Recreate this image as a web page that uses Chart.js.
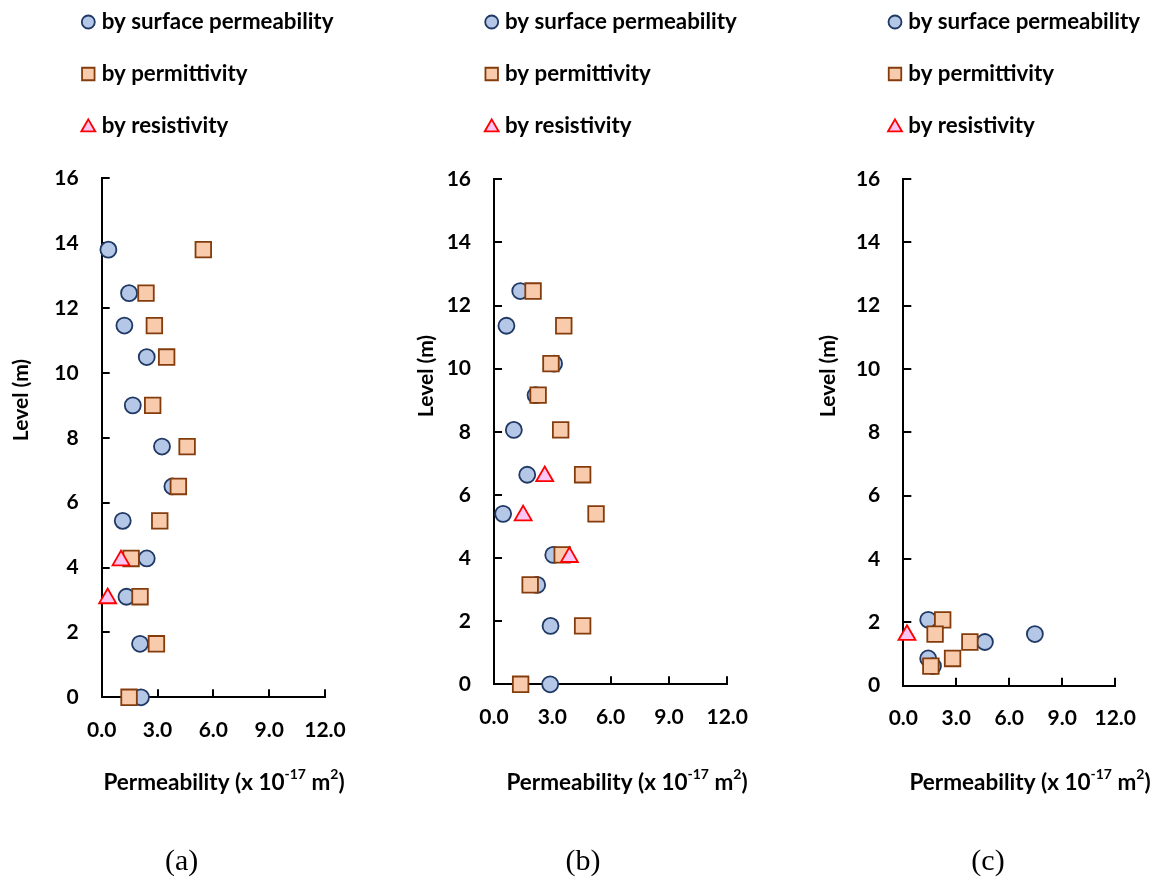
<!DOCTYPE html>
<html>
<head>
<meta charset="utf-8">
<script src="https://cdn.jsdelivr.net/npm/chart.js@4.4.1/dist/chart.umd.min.js"></script>
<style>
  html, body { margin: 0; padding: 0; background: #ffffff; }
  #wrap { position: relative; width: 1164px; height: 881px; overflow: hidden; background: #ffffff; }
  canvas { position: absolute; top: 0; }
</style>
</head>
<body>
<div id="wrap">
  <canvas id="ca" width="388" height="881" style="left:0px"></canvas>
  <canvas id="cb" width="388" height="881" style="left:388px"></canvas>
  <canvas id="cc" width="388" height="881" style="left:776px"></canvas>
</div>
<script>
// ---------- data ----------
const seriesNames = ['by surface permeability', 'by permittivity', 'by resistivity'];
const panelLabels = ['(a)', '(b)', '(c)'];
const yTitleText = 'Level (m)';
const xTicks = [0, 3, 6, 9, 12];
const yTicks = [0, 2, 4, 6, 8, 10, 12, 14, 16];

// Panel (a)
const aSurfPerm   = [0.36, 1.47, 1.22, 2.42, 1.67, 3.24, 3.80, 1.13, 2.42, 1.33, 2.06, 2.11];
const aSurfLevel  = [13.8, 12.46, 11.46, 10.49, 9.0, 7.73, 6.5, 5.44, 4.28, 3.1, 1.65, 0];
const aPermitPerm  = [5.46, 2.38, 2.83, 3.49, 2.74, 4.59, 4.12, 3.12, 1.58, 2.06, 2.94, 1.47];
const aPermitLevel = [13.8, 12.46, 11.46, 10.49, 9.0, 7.73, 6.5, 5.44, 4.28, 3.1, 1.65, 0];
const aResistPerm  = [1.04, 0.32];
const aResistLevel = [4.22, 3.05];

// Panel (b)
const bSurfPerm   = [1.35, 0.64, 3.09, 2.14, 1.02, 1.71, 0.47, 3.05, 2.22, 2.91, 2.89];
const bSurfLevel  = [12.46, 11.36, 10.16, 9.16, 8.06, 6.64, 5.4, 4.1, 3.15, 1.85, 0];
const bPermitPerm  = [2.01, 3.59, 2.93, 2.27, 3.43, 4.56, 5.25, 3.51, 1.86, 4.56, 1.37];
const bPermitLevel = [12.46, 11.36, 10.16, 9.16, 8.06, 6.64, 5.4, 4.1, 3.15, 1.85, 0];
const bResistPerm  = [2.61, 1.50, 3.88];
const bResistLevel = [6.59, 5.35, 4.03];

// Panel (c)
const cSurfPerm   = [1.41, 7.45, 4.62, 1.41, 1.68];
const cSurfLevel  = [2.08, 1.63, 1.38, 0.86, 0.62];
const cPermitPerm  = [2.23, 1.80, 3.77, 2.79, 1.56];
const cPermitLevel = [2.08, 1.63, 1.38, 0.86, 0.62];
const cResistPerm  = [0.21];
const cResistLevel = [1.60];

// ---------- styles ----------
const FONT = 'Lato, "Noto Sans", "DejaVu Sans", sans-serif';
const SERIF = '"Liberation Serif", "DejaVu Serif", serif';
const seriesStyles = [
  { shape: 'circle',   fill: '#b4c7e7', stroke: '#1f3864', radius: 8.0,  legendSize: 13, order: 3 },
  { shape: 'rect',     fill: '#f8cbad', stroke: '#843c0c', radius: 11.0, legendSize: 12.5, order: 2 },
  { shape: 'triangle', fill: '#fbc6f4', stroke: '#ff0000', radius: 9.8,  legendSize: 14, order: 1 }
];

function drawMarker(ctx, shape, x, y, size, fill, stroke, lw) {
  ctx.save();
  ctx.beginPath();
  if (shape === 'circle') {
    ctx.arc(x, y, size / 2, 0, Math.PI * 2);
  } else if (shape === 'rect') {
    ctx.rect(x - size / 2, y - size / 2, size, size);
  } else {
    const h = size * 0.866;
    ctx.moveTo(x, y - h * 0.55);
    ctx.lineTo(x + size / 2, y + h * 0.45);
    ctx.lineTo(x - size / 2, y + h * 0.45);
    ctx.closePath();
  }
  ctx.fillStyle = fill;
  ctx.fill();
  ctx.lineWidth = lw;
  ctx.strokeStyle = stroke;
  ctx.stroke();
  ctx.restore();
}

const panelText = {
  id: 'panelText',
  afterDraw(chart, args, o) {
    const ctx = chart.ctx;
    ctx.save();
    ctx.fillStyle = '#000000';
    ctx.textBaseline = 'middle';
    // legend
    seriesStyles.forEach((st, i) => {
      const y = o.legendTop + i * o.legendGap;
      drawMarker(ctx, st.shape, o.markerX, y, st.legendSize, st.fill, st.stroke, 1.8);
      ctx.fillStyle = '#000000';
      ctx.textAlign = 'left';
      ctx.font = 'bold ' + o.legendSize + 'px ' + FONT;
      ctx.fillText(chart.data.datasets[i].label, o.textX, y);
    });
    // y axis title
    ctx.save();
    ctx.translate(o.yTitleX, o.yTitleY);
    ctx.rotate(-Math.PI / 2);
    ctx.textAlign = 'center';
    ctx.font = 'bold ' + o.yTitleSize + 'px ' + FONT;
    ctx.fillText(yTitleText, 0, 0);
    ctx.restore();
    // x axis title with superscripts
    const parts = [['Permeability (x 10', false], ['-17', true], [' m', false], ['2', true], [')', false]];
    const big = 'bold ' + o.xTitleSize + 'px ' + FONT;
    const small = 'bold ' + Math.round(o.xTitleSize * 0.62) + 'px ' + FONT;
    let total = 0;
    parts.forEach(p => { ctx.font = p[1] ? small : big; total += ctx.measureText(p[0]).width; });
    let x = o.xTitleX - total / 2;
    ctx.textAlign = 'left';
    parts.forEach(p => {
      ctx.font = p[1] ? small : big;
      ctx.fillText(p[0], x, p[1] ? o.xTitleY - o.xTitleSize * 0.36 : o.xTitleY);
      x += ctx.measureText(p[0]).width;
    });
    // panel label
    ctx.textAlign = 'center';
    ctx.font = o.panelSize + 'px ' + SERIF;
    ctx.fillText(o.panel, o.panelX, o.panelY);
    ctx.restore();
  }
};

const CW = 388, CH = 881, YW = 50, XH = 50;
const TICK_FONT = { family: FONT, size: 21, weight: 'bold' };

function buildChart(id, xs, ys, L) {
  const datasets = seriesStyles.map((st, i) => ({
    label: seriesNames[i],
    data: xs[i].map((v, k) => ({ x: v, y: ys[i][k] })),
    pointStyle: st.shape,
    pointRadius: st.radius,
    pointHoverRadius: st.radius,
    pointBackgroundColor: st.fill,
    pointBorderColor: st.stroke,
    pointBorderWidth: 1.8,
    backgroundColor: st.fill,
    borderColor: st.stroke,
    showLine: false,
    clip: false,
    order: st.order
  }));
  return new Chart(document.getElementById(id), {
    type: 'scatter',
    data: { datasets },
    plugins: [panelText],
    options: {
      responsive: false,
      animation: false,
      devicePixelRatio: 1,
      events: [],
      layout: {
        autoPadding: false,
        padding: { left: L.left - YW, right: CW - L.right, top: L.top, bottom: CH - L.bottom - XH }
      },
      plugins: {
        legend: { display: false },
        tooltip: { enabled: false },
        panelText: L.text
      },
      scales: {
        x: {
          type: 'linear', position: 'bottom', min: 0, max: 12,
          afterBuildTicks: s => { s.ticks = xTicks.map(v => ({ value: v })); },
          afterFit: s => { s.height = XH; },
          grid: { drawOnChartArea: false, drawTicks: true, tickLength: -8, color: '#000000', lineWidth: 2 },
          border: { display: true, color: '#000000', width: 2 },
          ticks: { padding: 28, color: '#000000', font: TICK_FONT, maxRotation: 0, autoSkip: false,
                   callback: v => Number(v).toFixed(1) },
          title: { display: false }
        },
        y: {
          type: 'linear', position: 'left', min: 0, max: 16,
          afterBuildTicks: s => { s.ticks = yTicks.map(v => ({ value: v })); },
          afterFit: s => { s.width = YW; },
          grid: { drawOnChartArea: false, drawTicks: true, tickLength: -8, color: '#000000', lineWidth: 2 },
          border: { display: true, color: '#000000', width: 2 },
          ticks: { padding: 31, color: '#000000', font: TICK_FONT, autoSkip: false },
          title: { display: false }
        }
      }
    }
  });
}

const commonText = { legendTop: 22, legendGap: 52, legendSize: 22.3, xTitleSize: 22.5, yTitleSize: 21, panelSize: 30, xTitleY: 783, panelY: 862 };

buildChart('ca',
  [aSurfPerm, aPermitPerm, aResistPerm], [aSurfLevel, aPermitLevel, aResistLevel],
  { left: 101.7, right: 325, top: 178.3, bottom: 697.3,
    text: Object.assign({}, commonText, { markerX: 88.3, textX: 101.7, yTitleX: 21.7, yTitleY: 400, xTitleX: 224, panel: panelLabels[0], panelX: 181.7 }) });

buildChart('cb',
  [bSurfPerm, bPermitPerm, bResistPerm], [bSurfLevel, bPermitLevel, bResistLevel],
  { left: 106, right: 345.3, top: 179.3, bottom: 684.3,
    text: Object.assign({}, commonText, { markerX: 103.7, textX: 117, yTitleX: 38.7, yTitleY: 376, xTitleX: 239, panel: panelLabels[1], panelX: 195 }) });

buildChart('cc',
  [cSurfPerm, cPermitPerm, cResistPerm], [cSurfLevel, cPermitLevel, cResistLevel],
  { left: 127.3, right: 361.3, top: 179, bottom: 685.7,
    text: Object.assign({}, commonText, { markerX: 119, textX: 132.3, yTitleX: 52.3, yTitleY: 376, xTitleX: 254, panel: panelLabels[2], panelX: 212 }) });
</script>
</body>
</html>
